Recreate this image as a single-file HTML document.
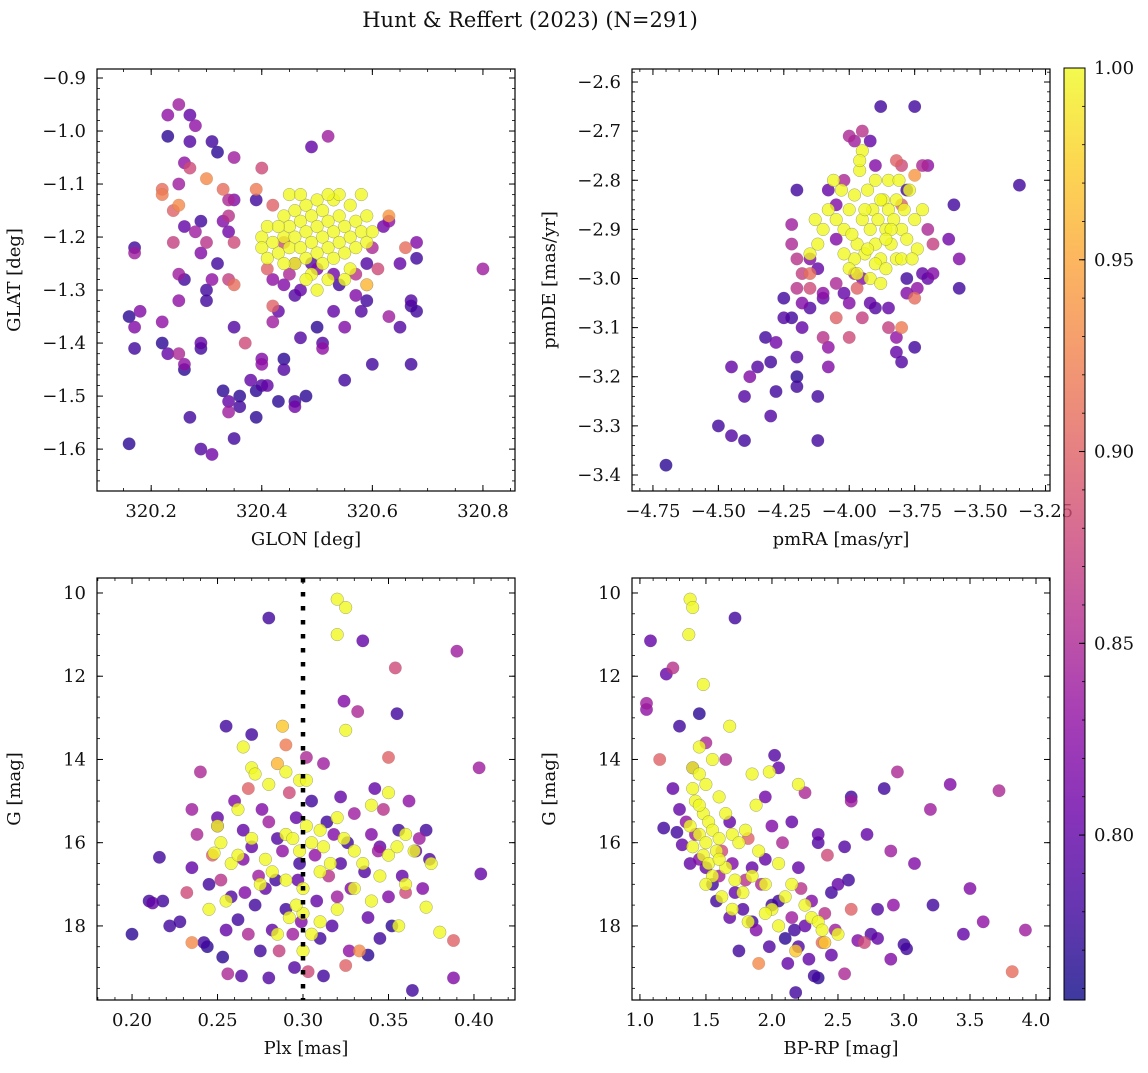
<!DOCTYPE html>
<html><head><meta charset="utf-8">
<style>
html,body{margin:0;padding:0;background:#fff;}
svg text{font-family:"DejaVu Serif","Liberation Serif",serif;fill:#111;}
</style></head>
<body>
<svg id="fig" width="1148" height="1068" viewBox="0 0 1148 1068" xmlns="http://www.w3.org/2000/svg">
<text x="530" y="27" font-size="21" text-anchor="middle">Hunt &amp; Reffert (2023) (N=291)</text>
</svg>
<script>
// ---------- DATA ----------
const skyPoints = [
[320.25,-0.95,0.84],[320.23,-0.97,0.83],[320.27,-0.97,0.80],[320.28,-0.99,0.83],[320.27,-1.02,0.79],[320.23,-1.01,0.77],[320.26,-1.06,0.83],[320.27,-1.07,0.88],[320.31,-1.02,0.78],[320.32,-1.04,0.77],[320.35,-1.05,0.84],[320.22,-1.11,0.91],[320.22,-1.12,0.92],[320.24,-1.15,0.9],[320.25,-1.14,0.93],[320.25,-1.10,0.84],[320.30,-1.09,0.93],[320.33,-1.11,0.91],[320.34,-1.13,0.85],[320.35,-1.13,0.82],[320.33,-1.17,0.82],[320.34,-1.16,0.86],[320.39,-1.11,0.92],[320.39,-1.13,0.78],[320.40,-1.07,0.88],[320.26,-1.18,0.8],[320.29,-1.17,0.78],[320.28,-1.19,0.84],[320.30,-1.21,0.86],[320.29,-1.23,0.82],[320.24,-1.21,0.87],[320.17,-1.22,0.78],[320.17,-1.23,0.84],[320.34,-1.19,0.81],[320.35,-1.21,0.88],[320.32,-1.25,0.78],[320.25,-1.27,0.84],[320.26,-1.28,0.78],[320.30,-1.30,0.78],[320.31,-1.28,0.83],[320.34,-1.28,0.87],[320.35,-1.29,0.91],[320.25,-1.32,0.83],[320.18,-1.34,0.82],[320.16,-1.35,0.77],[320.17,-1.37,0.82],[320.22,-1.36,0.83],[320.30,-1.32,0.78],[320.35,-1.37,0.79],[320.22,-1.40,0.77],[320.17,-1.41,0.78],[320.23,-1.42,0.8],[320.25,-1.42,0.85],[320.26,-1.45,0.77],[320.26,-1.44,0.83],[320.29,-1.40,0.8],[320.29,-1.41,0.78],[320.37,-1.40,0.88],[320.33,-1.49,0.77],[320.34,-1.51,0.8],[320.34,-1.53,0.84],[320.36,-1.50,0.77],[320.36,-1.52,0.78],[320.38,-1.47,0.8],[320.39,-1.49,0.77],[320.40,-1.43,0.82],[320.39,-1.54,0.77],[320.27,-1.54,0.78],[320.16,-1.59,0.77],[320.29,-1.60,0.79],[320.31,-1.61,0.81],[320.35,-1.58,0.78],[320.40,-1.44,0.83],[320.40,-1.48,0.79],[320.41,-1.48,0.80],[320.43,-1.51,0.77],[320.44,-1.45,0.79],[320.44,-1.43,0.77],[320.46,-1.52,0.81],[320.46,-1.51,0.78],[320.48,-1.50,0.77],[320.49,-1.03,0.80],[320.52,-1.01,0.84],[320.45,-1.12,1.0],[320.42,-1.14,0.9],[320.41,-1.26,0.9],[320.42,-1.28,0.83],[320.42,-1.33,0.9],[320.42,-1.36,0.84],[320.43,-1.34,0.8],[320.44,-1.29,0.82],[320.46,-1.31,0.79],[320.47,-1.30,0.8],[320.47,-1.39,0.79],[320.50,-1.37,0.77],[320.51,-1.40,0.79],[320.51,-1.41,0.83],[320.53,-1.34,0.8],[320.55,-1.37,0.82],[320.55,-1.47,0.78],[320.54,-1.29,0.78],[320.58,-1.34,0.79],[320.59,-1.32,0.78],[320.60,-1.44,0.78],[320.57,-1.31,0.82],[320.59,-1.25,0.79],[320.61,-1.26,0.88],[320.63,-1.35,0.84],[320.63,-1.16,0.94],[320.63,-1.17,0.83],[320.62,-1.18,0.81],[320.59,-1.29,0.96],[320.57,-1.27,0.86],[320.60,-1.22,0.85],[320.65,-1.25,0.8],[320.66,-1.22,0.91],[320.68,-1.21,0.82],[320.68,-1.24,0.78],[320.67,-1.32,0.79],[320.67,-1.33,0.78],[320.68,-1.34,0.78],[320.65,-1.37,0.79],[320.67,-1.44,0.78],[320.80,-1.26,0.84],[320.53,-1.27,0.81],[320.49,-1.25,0.79],[320.50,-1.26,0.82],[320.46,-1.25,0.84],[320.45,-1.27,0.85],[320.44,-1.21,0.88],
[320.40,-1.20,1],[320.40,-1.22,1],[320.41,-1.18,1],[320.41,-1.24,1],[320.42,-1.21,1],[320.43,-1.23,1],[320.44,-1.20,1],[320.44,-1.16,1],[320.45,-1.22,1],[320.45,-1.18,1],[320.46,-1.15,1],[320.46,-1.20,1],[320.46,-1.25,1],[320.47,-1.17,1],[320.47,-1.22,1],[320.48,-1.14,1],[320.48,-1.19,1],[320.48,-1.24,1],[320.49,-1.16,1],[320.49,-1.21,1],[320.49,-1.27,1],[320.50,-1.13,1],[320.50,-1.18,1],[320.50,-1.23,1],[320.51,-1.15,1],[320.51,-1.20,1],[320.51,-1.25,1],[320.52,-1.17,1],[320.52,-1.22,1],[320.52,-1.28,1],[320.53,-1.13,1],[320.53,-1.19,1],[320.53,-1.24,1],[320.54,-1.16,1],[320.54,-1.21,1],[320.54,-1.12,1],[320.55,-1.18,1],[320.55,-1.23,1],[320.56,-1.14,1],[320.56,-1.20,1],[320.56,-1.26,1],[320.57,-1.17,1],[320.57,-1.22,1],[320.58,-1.19,1],[320.58,-1.12,1],[320.59,-1.21,1],[320.59,-1.16,1],[320.60,-1.19,1],[320.48,-1.28,1],[320.50,-1.30,1],[320.44,-1.25,1],[320.43,-1.18,1],[320.47,-1.12,1],[320.52,-1.12,1],[320.55,-1.28,1]
];
const pmPoints = [
[-4.70,-3.38,0.77],[-4.50,-3.30,0.78],[-4.45,-3.32,0.79],[-4.40,-3.33,0.78],[-4.40,-3.24,0.79],[-4.45,-3.18,0.80],[-4.38,-3.20,0.82],[-4.35,-3.18,0.79],[-4.32,-3.12,0.78],[-4.30,-3.17,0.78],[-4.28,-3.13,0.81],[-4.30,-3.28,0.79],[-4.28,-3.23,0.78],[-4.25,-3.04,0.78],[-4.25,-3.08,0.79],[-4.22,-3.08,0.78],[-4.20,-3.16,0.79],[-4.20,-3.20,0.77],[-4.20,-3.22,0.78],[-4.18,-3.10,0.8],[-4.18,-3.05,0.82],[-4.15,-3.06,0.79],[-4.12,-3.24,0.78],[-4.12,-3.33,0.78],[-4.10,-3.12,0.86],[-4.08,-3.14,0.83],[-4.10,-3.04,0.8],[-4.12,-2.98,0.8],[-4.15,-2.96,0.82],[-4.20,-2.82,0.78],[-4.22,-2.89,0.84],[-4.22,-2.93,0.85],[-4.20,-2.96,0.86],[-4.18,-2.99,0.87],[-4.20,-3.02,0.86],[-4.15,-2.99,0.91],[-4.15,-3.02,0.88],[-4.10,-3.03,0.83],[-4.05,-3.08,0.9],[-4.05,-3.01,0.85],[-4.05,-2.92,0.82],[-4.05,-2.85,0.82],[-4.08,-2.82,0.8],[-4.02,-2.80,0.85],[-4.00,-2.71,0.85],[-3.98,-2.72,0.84],[-3.95,-2.70,0.86],[-3.92,-2.72,0.8],[-3.88,-2.65,0.78],[-3.75,-2.65,0.78],[-3.90,-2.77,0.82],[-3.82,-2.76,0.9],[-3.80,-2.77,0.88],[-3.72,-2.77,0.85],[-3.70,-2.77,0.83],[-3.75,-2.79,0.94],[-3.78,-2.82,0.78],[-3.80,-2.85,0.9],[-3.35,-2.81,0.78],[-3.60,-2.85,0.78],[-3.58,-2.96,0.82],[-3.62,-2.92,0.81],[-3.70,-2.90,0.85],[-3.68,-2.93,0.87],[-3.68,-2.99,0.82],[-3.70,-3.00,0.8],[-3.72,-2.99,0.8],[-3.74,-3.02,0.83],[-3.75,-3.04,0.91],[-3.78,-3.03,0.82],[-3.78,-3.00,0.78],[-3.75,-3.14,0.78],[-3.80,-3.17,0.79],[-3.82,-3.15,0.8],[-3.82,-3.12,0.83],[-3.85,-3.10,0.87],[-3.80,-3.10,0.92],[-3.58,-3.02,0.78],[-3.85,-3.06,0.8],[-3.90,-3.06,0.79],[-3.92,-3.05,0.8],[-3.95,-3.08,0.87],[-4.00,-3.05,0.82],[-4.02,-3.03,0.8],[-3.98,-2.99,0.85],[-3.95,-3.00,0.82],[-3.97,-3.02,0.9],[-4.00,-3.12,0.88],[-4.08,-3.18,0.82],
[-4.00,-2.86,1],[-4.02,-2.90,1],[-3.98,-2.83,1],[-3.97,-2.93,1],[-3.96,-2.78,1],[-3.95,-2.88,1],[-3.94,-2.95,1],[-3.93,-2.82,1],[-3.92,-2.90,1],[-3.91,-2.86,1],[-3.90,-2.80,1],[-3.90,-2.93,1],[-3.89,-2.88,1],[-3.88,-2.96,1],[-3.87,-2.84,1],[-3.86,-2.90,1],[-3.85,-2.86,1],[-3.85,-2.80,1],[-3.84,-2.93,1],[-3.83,-2.88,1],[-3.82,-2.84,1],[-3.82,-2.96,1],[-3.80,-2.90,1],[-3.79,-2.86,1],[-3.78,-2.92,1],[-3.77,-2.82,1],[-3.75,-2.88,1],[-3.74,-2.94,1],[-3.72,-2.86,1],[-3.95,-2.74,1],[-3.96,-2.76,1],[-3.98,-2.96,1],[-4.02,-2.95,1],[-4.05,-2.88,1],[-4.03,-2.82,1],[-4.08,-2.86,1],[-4.10,-2.90,1],[-4.12,-2.93,1],[-4.13,-2.88,1],[-3.92,-3.00,1],[-3.88,-3.01,1],[-3.94,-2.86,1],[-3.88,-2.84,1],[-3.84,-2.90,1],[-3.86,-2.92,1],[-3.93,-2.94,1],[-4.00,-2.98,1],[-3.80,-2.96,1],[-3.76,-2.96,1],[-3.90,-2.97,1],[-4.15,-2.95,1],[-4.06,-2.80,1],[-3.99,-2.91,1],[-3.81,-2.80,1],[-3.97,-2.99,1],[-3.86,-2.98,1]
];
const plxPoints = [
[0.20,18.2,0.77],[0.21,17.4,0.78],[0.212,17.45,0.8],[0.216,16.35,0.78],[0.218,17.4,0.78],[0.222,18.0,0.78],[0.228,17.9,0.78],[0.232,17.2,0.88],[0.235,18.4,0.93],[0.235,16.6,0.8],[0.235,15.2,0.84],[0.238,15.8,0.85],[0.24,14.3,0.85],[0.242,18.4,0.78],[0.244,18.5,0.77],[0.245,17.0,0.78],[0.247,16.3,0.9],[0.25,15.4,0.8],[0.25,15.6,0.83],[0.252,16.9,0.86],[0.253,18.75,0.77],[0.255,13.2,0.78],[0.255,18.1,0.8],[0.256,19.15,0.85],[0.258,17.3,0.79],[0.26,15.0,0.82],[0.262,17.85,0.78],[0.264,19.2,0.79],[0.265,16.4,0.82],[0.266,17.2,0.82],[0.268,18.2,0.85],[0.268,14.7,0.9],[0.27,13.4,0.78],[0.27,16.1,0.8],[0.272,17.5,0.78],[0.274,16.8,0.84],[0.275,18.6,0.78],[0.276,15.2,0.82],[0.278,17.1,0.8],[0.28,10.6,0.78],[0.28,19.25,0.79],[0.28,15.5,0.84],[0.282,18.1,0.8],[0.284,16.9,0.78],[0.286,18.6,0.87],[0.288,16.2,0.83],[0.29,13.65,0.92],[0.29,17.6,0.78],[0.292,14.8,0.88],[0.294,18.2,0.84],[0.295,19.0,0.79],[0.296,15.4,0.8],[0.298,16.5,0.78],[0.299,17.9,0.82],[0.302,13.95,0.85],[0.303,19.1,0.88],[0.305,15.0,0.78],[0.307,16.3,0.83],[0.308,17.4,0.8],[0.31,18.3,0.78],[0.312,14.1,0.84],[0.314,15.5,0.78],[0.315,16.8,0.86],[0.317,18.0,0.79],[0.318,15.8,0.82],[0.32,17.3,0.84],[0.322,14.9,0.8],[0.324,12.6,0.82],[0.325,18.95,0.9],[0.326,16.0,0.78],[0.327,18.6,0.83],[0.328,17.1,0.82],[0.33,15.3,0.84],[0.332,12.85,0.85],[0.333,18.6,0.93],[0.335,11.15,0.8],[0.336,16.7,0.79],[0.338,17.8,0.8],[0.34,15.8,0.82],[0.342,14.7,0.8],[0.344,16.2,0.84],[0.345,18.3,0.78],[0.347,15.2,0.86],[0.35,13.95,0.9],[0.35,17.3,0.82],[0.352,18.0,0.77],[0.354,11.8,0.88],[0.355,12.9,0.78],[0.356,15.7,0.78],[0.358,16.8,0.8],[0.36,17.2,0.88],[0.362,15.0,0.83],[0.364,19.55,0.78],[0.366,16.2,0.8],[0.368,15.9,0.84],[0.37,17.1,0.82],[0.372,15.7,0.78],[0.374,16.4,0.79],[0.388,18.35,0.9],[0.388,19.25,0.82],[0.39,11.4,0.84],[0.403,14.2,0.84],[0.404,16.75,0.8],[0.345,16.1,0.8],[0.338,18.7,0.77],[0.312,19.2,0.78],[0.265,15.7,0.8],[0.285,15.9,0.79],[0.322,16.5,0.79],[0.297,16.9,0.8],
[0.32,10.15,1],[0.325,10.35,1],[0.32,11.0,1],[0.265,13.7,1],[0.288,13.2,0.97],[0.27,14.2,1],[0.272,14.35,1],[0.285,14.1,0.96],[0.28,14.6,1],[0.29,14.3,1],[0.298,14.5,1],[0.302,14.5,1],[0.262,15.2,1],[0.252,16.0,1],[0.248,16.25,1],[0.258,16.5,1],[0.262,16.3,1],[0.27,15.9,1],[0.278,16.4,1],[0.282,16.7,1],[0.29,15.8,1],[0.294,15.9,1],[0.298,16.2,1],[0.302,15.6,1],[0.305,16.0,1],[0.31,15.7,1],[0.312,16.1,1],[0.316,16.5,1],[0.32,15.4,1],[0.324,15.9,1],[0.33,16.2,1],[0.335,16.5,1],[0.34,15.1,1],[0.345,16.8,1],[0.35,16.3,1],[0.355,16.1,1],[0.36,17.0,1],[0.365,16.2,1],[0.372,17.55,1],[0.375,16.5,1],[0.38,18.15,1],[0.356,18.0,1],[0.34,17.4,1],[0.33,17.1,1],[0.32,17.6,1],[0.31,17.9,1],[0.3,17.7,1],[0.296,17.5,1],[0.292,17.8,1],[0.285,18.2,1],[0.3,18.6,1],[0.305,18.2,1],[0.245,17.6,1],[0.255,17.4,1],[0.325,13.3,1],[0.35,14.8,1],[0.36,15.8,1],[0.25,15.6,1],[0.275,17.0,1],[0.29,16.9,1],[0.31,16.7,1],[0.3,17.1,1]
];
const cmdPoints = [
[1.08,11.15,0.8],[1.05,12.65,0.84],[1.05,12.8,0.83],[1.2,11.95,0.8],[1.25,11.8,0.86],[1.3,13.2,0.78],[1.45,12.9,0.77],[1.5,13.6,0.85],[1.72,10.6,0.78],[1.15,14.0,0.9],[1.18,15.65,0.78],[1.25,14.7,0.8],[1.3,15.2,0.8],[1.28,15.75,0.78],[1.32,16.05,0.8],[1.35,15.5,0.83],[1.38,16.5,0.8],[1.4,14.2,0.82],[1.42,15.8,0.84],[1.45,16.4,0.82],[1.5,16.6,0.8],[1.55,17.0,0.78],[1.58,17.4,0.78],[1.6,16.8,0.84],[1.62,16.2,0.88],[1.65,14.0,0.85],[1.68,15.5,0.8],[1.7,16.5,0.82],[1.72,17.2,0.8],[1.75,18.6,0.78],[1.78,17.6,0.79],[1.8,16.9,0.86],[1.82,15.9,0.9],[1.85,17.9,0.78],[1.88,18.1,0.82],[1.9,18.9,0.93],[1.92,17.0,0.85],[1.95,16.4,0.8],[1.98,18.5,0.79],[2.0,15.6,0.82],[2.02,13.9,0.79],[2.05,14.2,0.8],[2.05,17.4,0.78],[2.08,16.0,0.85],[2.1,18.3,0.77],[2.12,18.9,0.8],[2.15,17.8,0.84],[2.17,18.1,0.78],[2.18,19.6,0.78],[2.2,18.5,0.79],[2.22,17.1,0.86],[2.25,14.8,0.85],[2.28,18.8,0.8],[2.3,17.4,0.82],[2.32,19.2,0.78],[2.35,15.8,0.8],[2.35,19.25,0.77],[2.38,18.4,0.91],[2.4,17.7,0.86],[2.42,16.3,0.88],[2.45,17.2,0.78],[2.48,18.1,0.84],[2.5,17.0,0.8],[2.55,19.15,0.85],[2.58,16.9,0.78],[2.6,14.9,0.78],[2.6,15.0,0.84],[2.6,17.6,0.9],[2.65,18.35,0.82],[2.7,18.4,0.88],[2.72,15.8,0.8],[2.75,18.2,0.79],[2.8,18.3,0.8],[2.85,14.7,0.78],[2.9,18.8,0.82],[2.9,16.2,0.84],[2.92,17.5,0.83],[2.95,14.3,0.85],[3.0,18.45,0.78],[3.02,18.55,0.78],[3.08,16.5,0.82],[3.22,17.5,0.78],[3.2,15.2,0.84],[3.35,14.6,0.82],[3.45,18.2,0.8],[3.5,17.1,0.82],[3.6,17.9,0.83],[3.72,14.75,0.85],[3.82,19.1,0.91],[3.92,18.1,0.84],[2.35,16.0,0.79],[2.2,16.6,0.8],[2.0,17.5,0.78],[1.85,16.6,0.8],[2.45,18.7,0.8],[2.55,16.1,0.79],[2.15,15.5,0.8],[1.95,14.9,0.81],[2.25,18.0,0.8],[1.68,17.8,0.8],[2.8,17.6,0.79],
[1.38,10.15,1],[1.4,10.35,1],[1.37,11.0,1],[1.48,12.2,1],[1.68,13.2,1],[1.45,13.7,1],[1.4,14.2,1],[1.45,14.35,1],[1.4,14.7,1],[1.5,14.6,1],[1.42,15.0,1],[1.48,15.3,1],[1.52,15.5,1],[1.45,15.8,1],[1.5,16.0,1],[1.55,15.7,1],[1.48,16.3,1],[1.52,16.5,1],[1.58,16.2,1],[1.6,15.9,1],[1.65,16.6,1],[1.7,15.8,1],[1.75,16.0,1],[1.8,15.7,1],[1.72,16.9,1],[1.78,17.2,1],[1.85,16.8,1],[1.9,16.2,1],[1.95,17.0,1],[2.0,17.6,1],[2.05,16.5,1],[2.1,17.3,1],[1.95,17.7,1],[2.3,17.8,1],[2.35,17.9,1],[2.4,18.4,0.97],[2.5,18.2,1],[2.2,14.6,1],[1.98,14.3,1],[1.85,14.35,1],[1.55,14.0,1],[1.6,14.9,1],[1.65,15.3,1],[1.45,15.1,1],[1.38,15.6,1],[1.55,16.8,1],[1.62,17.3,1],[1.7,17.6,1],[1.82,17.9,1],[2.05,18.0,1],[2.15,17.0,1],[2.25,17.5,1],[1.5,17.0,1],[2.18,18.6,0.97],[2.38,18.1,1],[1.4,16.1,1],[1.88,15.1,1],[1.6,16.4,1]
];
const skyXTicks = [320.2,320.4,320.6,320.8];
const skyYTicks = [-0.9,-1.0,-1.1,-1.2,-1.3,-1.4,-1.5,-1.6];
const pmXTicks = [-4.75,-4.5,-4.25,-4.0,-3.75,-3.5,-3.25];
const pmYTicks = [-2.6,-2.7,-2.8,-2.9,-3.0,-3.1,-3.2,-3.3,-3.4];
const plxXTicks = [0.20,0.25,0.30,0.35,0.40];
const magYTicks = [10,12,14,16,18];
const cmdXTicks = [1.0,1.5,2.0,2.5,3.0,3.5,4.0];
const cbTicks = [0.80,0.85,0.90,0.95,1.00];
const plxCut = [0.30];

// ---------- RENDER ----------
const NS = "http://www.w3.org/2000/svg";
const svg = document.getElementById('fig');
function mk(tag, attrs, parent){ const e=document.createElementNS(NS,tag); for(const k in attrs) e.setAttribute(k,attrs[k]); (parent||svg).appendChild(e); return e; }
const stops=[[0,[13,8,135]],[0.1,[65,4,157]],[0.2,[106,0,168]],[0.3,[143,13,164]],[0.4,[177,42,144]],[0.5,[204,71,120]],[0.6,[225,100,98]],[0.7,[242,132,75]],[0.8,[252,166,54]],[0.9,[252,206,37]],[1,[240,249,33]]];
const VMIN=0.757, VMAX=1.0;
function plasma(v){ let t=(v-VMIN)/(VMAX-VMIN); t=Math.max(0,Math.min(1,t));
  for(let i=1;i<stops.length;i++){ if(t<=stops[i][0]){ const a=stops[i-1],b=stops[i]; const f=(t-a[0])/(b[0]-a[0]);
    const c=a[1].map((x,j)=>Math.round(x+(b[1][j]-x)*f)); return `rgb(${c[0]},${c[1]},${c[2]})`; } }
  return 'rgb(240,249,33)'; }
function fmt(v,d){ return v.toFixed(d).replace('-','\u2212'); }

const panels = [
 {name:'sky', L:97,T:69,R:515,B:491, x0:320.102,x1:320.858, y0:-1.679,y1:-0.883, pts:skyPoints, xt:skyXTicks, yt:skyYTicks, xd:1, yd:1, xm:0.05, ym:0.02, xl:'GLON [deg]', yl:'GLAT [deg]'},
 {name:'proper-motion', L:632,T:69,R:1050,B:491, x0:-4.83,x1:-3.233, y0:-3.4326,y1:-2.5735, pts:pmPoints, xt:pmXTicks, yt:pmYTicks, xd:2, yd:1, xm:0.05, ym:0.02, xl:'pmRA [mas/yr]', yl:'pmDE [mas/yr]'},
 {name:'parallax-magnitude', L:97,T:578,R:515,B:1000, x0:0.1795,x1:0.424, y0:19.78,y1:9.64, pts:plxPoints, xt:plxXTicks, yt:magYTicks, xd:2, yd:0, xm:0.01, ym:0.5, xl:'Plx [mas]', yl:'G [mag]'},
 {name:'color-magnitude', L:632,T:578,R:1050,B:1000, x0:0.94,x1:4.106, y0:19.78,y1:9.64, pts:cmdPoints, xt:cmdXTicks, yt:magYTicks, xd:1, yd:0, xm:0.1, ym:0.5, xl:'BP-RP [mag]', yl:'G [mag]'}
];

panels.forEach((p,pi)=>{
  const g=mk('g',{});
  
  
  const sx=v=>p.L+(v-p.x0)/(p.x1-p.x0)*(p.R-p.L);
  const sy=v=>p.B-(v-p.y0)/(p.y1-p.y0)*(p.B-p.T);
  const clip=mk('clipPath',{id:'c'+pi},g); mk('rect',{x:p.L,y:p.T,width:p.R-p.L,height:p.B-p.T},clip);
  const pg=mk('g',{'clip-path':`url(#c${pi})`},g);
  const sorted=p.pts.slice().sort((a,b)=>a[2]-b[2]);
  sorted.forEach(d=>{
    const c=mk('circle',{cx:sx(d[0]).toFixed(1),cy:sy(d[1]).toFixed(1),r:6.3,fill:plasma(d[2]),'fill-opacity':0.8,stroke:'#666','stroke-opacity':d[2]>0.95?0.6:0.25,'stroke-width':0.5},pg);
    
    
  });
  if(pi===2){ plxCut.forEach(v=>{ const l=mk('line',{x1:sx(v),x2:sx(v),y1:p.T,y2:p.B,stroke:'#000','stroke-width':4.5,'stroke-dasharray':'4.5,9.5'},pg);
      }); }
  const lo=Math.min(p.x0,p.x1), hi=Math.max(p.x0,p.x1);
  for(let v=Math.ceil(lo/p.xm)*p.xm; v<=hi; v+=p.xm){ const X=sx(v);
    mk('line',{x1:X,x2:X,y1:p.B,y2:p.B-3,stroke:'#000','stroke-width':0.8},g); mk('line',{x1:X,x2:X,y1:p.T,y2:p.T+3,stroke:'#000','stroke-width':0.8},g); }
  const ylo=Math.min(p.y0,p.y1), yhi=Math.max(p.y0,p.y1);
  for(let v=Math.ceil(ylo/p.ym)*p.ym; v<=yhi; v+=p.ym){ const Y=sy(v);
    mk('line',{x1:p.L,x2:p.L+3,y1:Y,y2:Y,stroke:'#000','stroke-width':0.8},g); mk('line',{x1:p.R,x2:p.R-3,y1:Y,y2:Y,stroke:'#000','stroke-width':0.8},g); }
  p.xt.forEach(v=>{ const X=sx(v); if(X<p.L-1||X>p.R+30) return;
    if(X<=p.R+0.5){ mk('line',{x1:X,x2:X,y1:p.B,y2:p.B-6,stroke:'#000','stroke-width':1},g); mk('line',{x1:X,x2:X,y1:p.T,y2:p.T+6,stroke:'#000','stroke-width':1},g); }
    const t=mk('text',{x:X,y:p.B+26,'font-size':18,'text-anchor':'middle'},g); t.textContent=fmt(v,p.xd);
      });
  p.yt.forEach(v=>{ const Y=sy(v);
    mk('line',{x1:p.L,x2:p.L+6,y1:Y,y2:Y,stroke:'#000','stroke-width':1},g); mk('line',{x1:p.R,x2:p.R-6,y1:Y,y2:Y,stroke:'#000','stroke-width':1},g);
    const t=mk('text',{x:p.L-11,y:Y+6,'font-size':18,'text-anchor':'end'},g); t.textContent=fmt(v,p.yd);
      });
  mk('rect',{x:p.L,y:p.T,width:p.R-p.L,height:p.B-p.T,fill:'none',stroke:'#000','stroke-width':1.2},g);
  const xl=mk('text',{x:(p.L+p.R)/2,y:p.B+54,'font-size':18,'text-anchor':'middle'},g); xl.textContent=p.xl;
   
  const yx=p.L-77, yy=(p.T+p.B)/2;
  const yl=mk('text',{x:yx,y:yy,'font-size':18,'text-anchor':'middle',transform:`rotate(-90 ${yx} ${yy})`},g); yl.textContent=p.yl;
   
});

// colorbar
const cb=mk('g',{});


const CL=1064,CR=1085,CT=68,CB=1000;
const grad=mk('linearGradient',{id:'cbg',x1:0,y1:1,x2:0,y2:0},cb);
stops.forEach(s=>mk('stop',{offset:s[0],'stop-color':`rgb(${s[1].join(',')})`,'stop-opacity':0.8},grad));
mk('rect',{x:CL,y:CT,width:CR-CL,height:CB-CT,fill:'url(#cbg)',stroke:'#000','stroke-width':1},cb);
const cy=v=>CB-(v-VMIN)/(VMAX-VMIN)*(CB-CT);
for(let v=0.76; v<=1.0001; v+=0.01){ const Y=cy(v); mk('line',{x1:CR,x2:CR-3,y1:Y,y2:Y,stroke:'#000','stroke-width':0.8},cb); }
cbTicks.forEach(v=>{ const Y=cy(v); mk('line',{x1:CR,x2:CR-6,y1:Y,y2:Y,stroke:'#000','stroke-width':1},cb);
  const t=mk('text',{x:CR+9,y:Y+6,'font-size':18},cb); t.textContent=v.toFixed(2);
    });
</script>
</body></html>
